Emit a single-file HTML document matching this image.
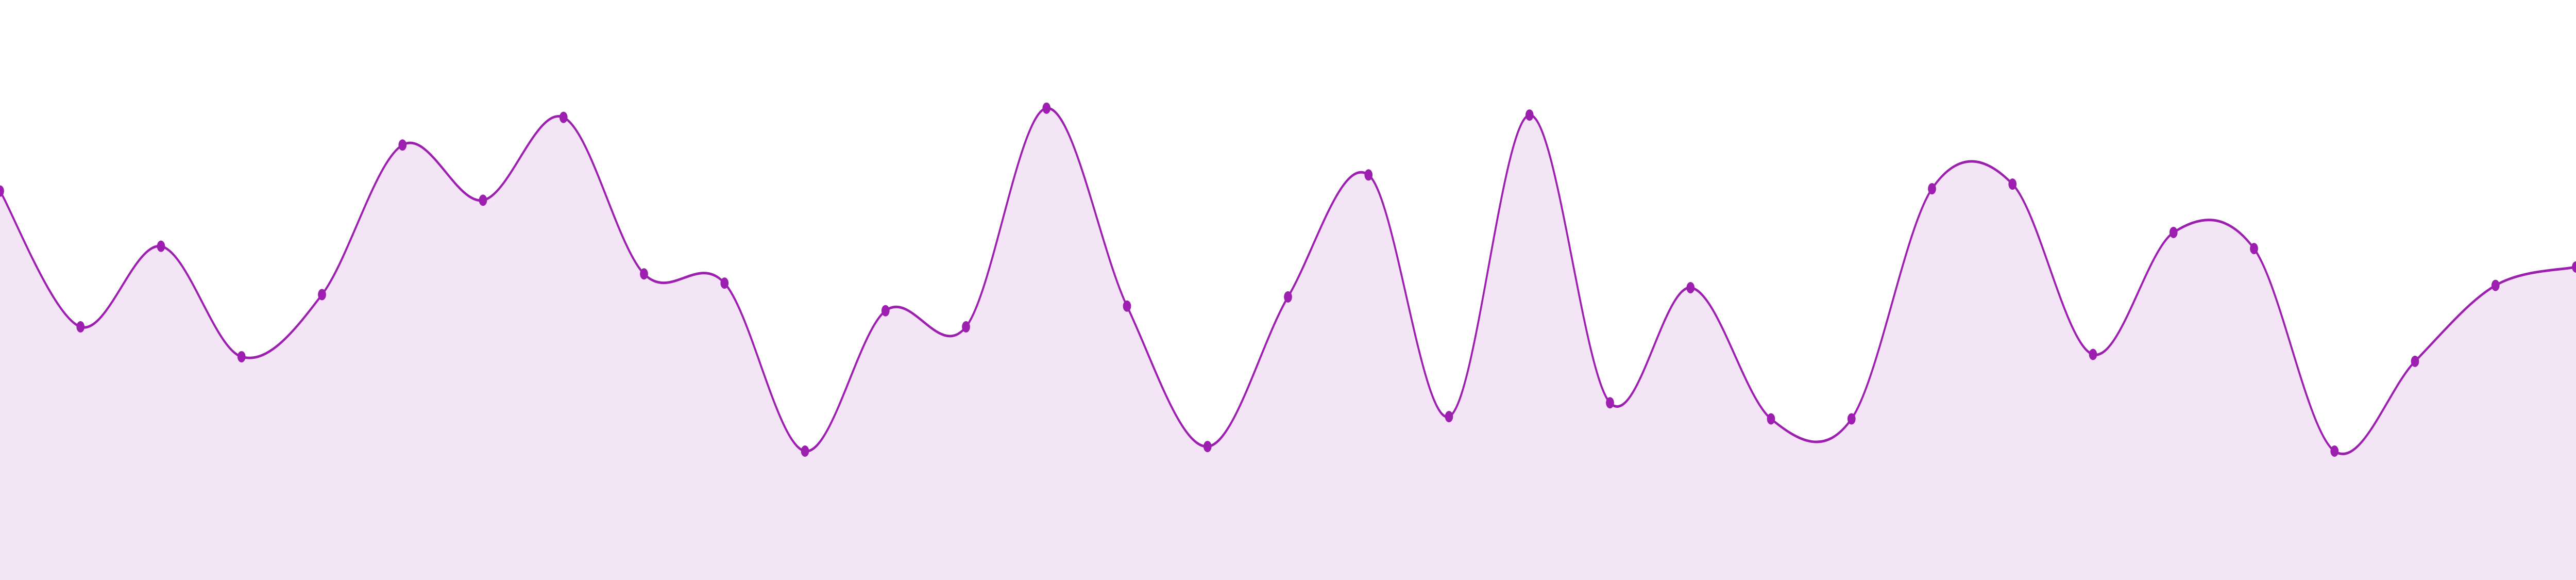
<!DOCTYPE html>
<html><head><meta charset="utf-8"><style>html,body{margin:0;padding:0;background:#fff;width:100%;height:100%;overflow:hidden}svg{display:block;position:absolute;left:0;top:0;width:100vw;height:100vh}</style></head>
<body>
<svg id="chart" viewBox="0 0 7000 1125" preserveAspectRatio="none"></svg>
<script>
const values = [169,110,145,97,124,189,165,201,133,129,56,117,110,205,119,58,123,176,71,202,77,127,70,70,170,172,98,151,144,56,95,128,136];
const categories = values.map((_, i) => i);
const W = 7000, H = 1125, yMax = 252;
const xS = i => i * W / (values.length - 1);
const yS = v => H - v * (H / yMax);
const svg = document.getElementById('chart');
const NS = 'http://www.w3.org/2000/svg';
const pts = categories.map((c, i) => [xS(i), yS(values[i])]);
let d = 'M' + pts[0][0] + ',' + pts[0][1];
for (let i = 0; i < pts.length - 1; i++) {
  const p0 = pts[Math.max(0, i - 1)], p1 = pts[i], p2 = pts[i + 1], p3 = pts[Math.min(pts.length - 1, i + 2)];
  const c1x = p1[0] + (p2[0] - p0[0]) / 6, c1y = p1[1] + (p2[1] - p0[1]) / 6;
  const c2x = p2[0] - (p3[0] - p1[0]) / 6, c2y = p2[1] - (p3[1] - p1[1]) / 6;
  d += ` C${c1x},${c1y} ${c2x},${c2y} ${p2[0]},${p2[1]}`;
}
const area = document.createElementNS(NS, 'path');
area.setAttribute('d', d + ` L${W},${H} L0,${H} Z`);
area.setAttribute('fill', '#f3e5f5');


svg.appendChild(area);
const line = document.createElementNS(NS, 'path');
line.setAttribute('d', d);
line.setAttribute('fill', 'none');
line.setAttribute('stroke', '#9c1fb0');
line.setAttribute('stroke-width', '5');


svg.appendChild(line);
pts.forEach((p, i) => {
  const c = document.createElementNS(NS, 'circle');
  c.setAttribute('cx', p[0]); c.setAttribute('cy', p[1]); c.setAttribute('r', 11);
  c.setAttribute('fill', '#9c1fb0');
  
  
  svg.appendChild(c);
});
</script>
</body></html>
